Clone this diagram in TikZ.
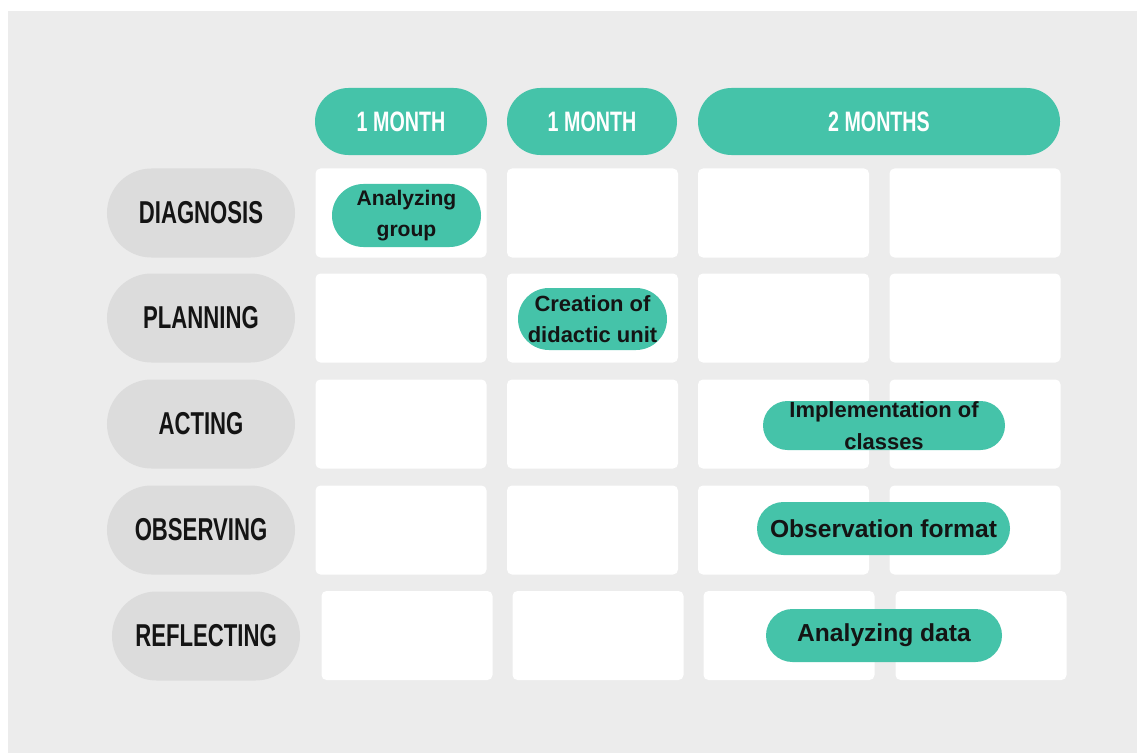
\documentclass[tikz,border=0pt]{standalone}
\usepackage{fontspec}
\setmainfont{Liberation Sans}
\usepackage{tikz}

\definecolor{mint}{HTML}{45C3A9}
\definecolor{paper}{HTML}{ECECEC}
\definecolor{pillgrey}{HTML}{DCDCDC}
\definecolor{ink}{HTML}{141414}

\newcommand{\narrow}[1]{\scalebox{0.7}[1]{#1}}

\begin{document}
\begin{tikzpicture}[x=0.2mm, y=-0.2mm,
	cell/.style={fill=white, rounded corners=1mm, minimum width=34.2mm, minimum height=17.8mm, inner sep=0pt},
	rowlabel/.style={fill=pillgrey, rounded corners=8.9mm, minimum width=37.6mm, minimum height=17.8mm, inner sep=0pt, text=ink, font=\fontsize{18}{20}\selectfont\bfseries},
	monthpill/.style={fill=mint, rounded corners=6.7mm, minimum height=13.4mm, inner sep=0pt, text=white, font=\fontsize{16}{18}\selectfont\bfseries},
	taskpill/.style={fill=mint, inner sep=0pt},
	tasktext/.style={align=center, inner sep=0pt, text=ink}]

	\useasboundingbox (0,0) rectangle (1137,753);
	\fill[white] (0,0) rectangle (1137,753);
	\fill[paper] (8,11) rectangle (1137,753);

	\node[monthpill, minimum width=34.4mm] (m1) at (401,121.5) {\narrow{1 MONTH}};
	\node[monthpill, minimum width=34mm] (m2) at (592,121.5) {\narrow{1 MONTH}};
	\node[monthpill, minimum width=72.4mm] (m3) at (879,121.5) {\narrow{2 MONTHS}};

	\node[rowlabel] (diag) at (201,213) {\narrow{DIAGNOSIS}};
	\node[rowlabel] (plan) at (201,318) {\narrow{PLANNING}};
	\node[rowlabel] (act) at (201,424) {\narrow{ACTING}};
	\node[rowlabel] (obs) at (201,530) {\narrow{OBSERVING}};
	\node[rowlabel] (refl) at (206,636) {\narrow{REFLECTING}};

	\node[cell] (c11) at (401,213) {};
	\node[cell] (c12) at (592.5,213) {};
	\node[cell] (c13) at (783.5,213) {};
	\node[cell] (c14) at (975,213) {};

	\node[cell] (c21) at (401,318) {};
	\node[cell] (c22) at (592.5,318) {};
	\node[cell] (c23) at (783.5,318) {};
	\node[cell] (c24) at (975,318) {};

	\node[cell] (c31) at (401,424) {};
	\node[cell] (c32) at (592.5,424) {};
	\node[cell] (c33) at (783.5,424) {};
	\node[cell] (c34) at (975,424) {};

	\node[cell] (c41) at (401,530) {};
	\node[cell] (c42) at (592.5,530) {};
	\node[cell] (c43) at (783.5,530) {};
	\node[cell] (c44) at (975,530) {};

	\node[cell] (c51) at (407,635.5) {};
	\node[cell] (c52) at (598,635.5) {};
	\node[cell] (c53) at (789,635.5) {};
	\node[cell] (c54) at (981,635.5) {};

	\node[taskpill, rounded corners=6.3mm, minimum width=29.8mm, minimum height=12.6mm] (t1) at (406.5,215.5) {};
	\node[tasktext, font=\fontsize{12}{17.5}\selectfont\bfseries] at (t1) {Analyzing\\group};

	\node[taskpill, rounded corners=6.2mm, minimum width=29.8mm, minimum height=12.4mm] (t2) at (592.5,319) {};
	\node[tasktext, font=\fontsize{12.5}{18}\selectfont\bfseries] at (t2) {Creation of\\didactic unit};

	\node[taskpill, rounded corners=4.9mm, minimum width=48.4mm, minimum height=9.8mm] (t3) at (884,425.5) {};
	\node[tasktext, font=\fontsize{12.5}{18}\selectfont\bfseries] at (t3) {Implementation of\\classes};

	\node[taskpill, rounded corners=5.3mm, minimum width=50.6mm, minimum height=10.6mm] (t4) at (883.5,528.5) {};
	\node[tasktext, font=\fontsize{14}{18}\selectfont\bfseries] at (t4) {Observation format};

	\node[taskpill, rounded corners=5.3mm, minimum width=47.2mm, minimum height=10.6mm] (t5) at (884,635.5) {};
	\node[tasktext, font=\fontsize{14}{18}\selectfont\bfseries] at (t5) {Analyzing data};
\end{tikzpicture}
\end{document}
